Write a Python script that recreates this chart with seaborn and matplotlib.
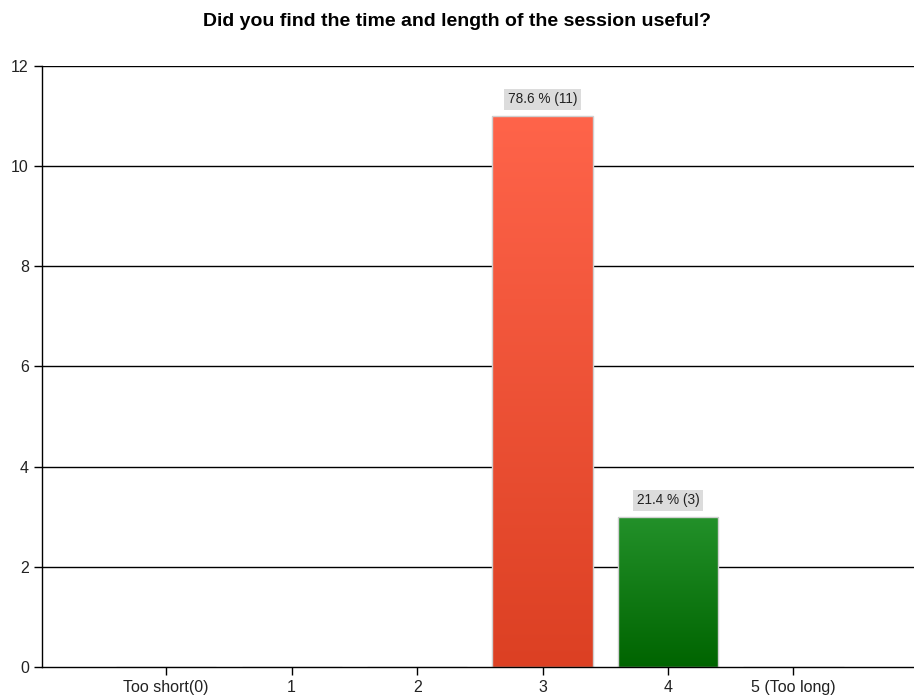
import numpy as np
import pandas as pd
import matplotlib
matplotlib.use("Agg")
import matplotlib.pyplot as plt
import seaborn as sns
from matplotlib.colors import LinearSegmentedColormap

categories = ["Too short(0)", "1", "2", "3", "4", "5 (Too long)"]
counts = [0, 0, 0, 11, 3, 0]
labels = ["", "", "", "78.6 % (11)", "21.4 % (3)", ""]
top_colors = ["#FF6347", "#FF6347", "#FF6347", "#FF644A", "#23912A", "#23912A"]
bottom_colors = ["#DC4023", "#DC4023", "#DC4023", "#DC4023", "#006400", "#006400"]
y_ticks = [0, 2, 4, 6, 8, 10, 12]

sns.set_theme(style="white")
plt.rcParams["font.family"] = ["Liberation Sans", "DejaVu Sans"]

df = pd.DataFrame({"category": categories, "count": counts})

fig = plt.figure(figsize=(9.14, 7.0), dpi=100)
ax = fig.add_axes([0.046, 0.047, 0.958, 0.859])

sns.barplot(data=df, x="category", y="count", order=categories, width=0.8,
            color="#cccccc", edgecolor="#d0d0d0", linewidth=1.0, ax=ax, zorder=3)

ax.set_xlim(-0.99, 5.99)
ax.set_ylim(0, 12)
ax.set_yticks(y_ticks)
ax.set_yticklabels([str(t) for t in y_ticks])

# vertical gradient fill clipped to each bar
grad = np.linspace(1, 0, 256).reshape(-1, 1)
for patch, c_top, c_bot, lab, val in zip(ax.patches, top_colors, bottom_colors, labels, counts):
    if val <= 0:
        continue
    x0, y0 = patch.get_x(), patch.get_y()
    w, h = patch.get_width(), patch.get_height()
    cmap = LinearSegmentedColormap.from_list("bar", [c_bot, c_top])
    im = ax.imshow(grad, cmap=cmap, aspect="auto", extent=[x0, x0 + w, y0, y0 + h],
                   origin="upper", zorder=3.5, interpolation="bicubic")
    im.set_clip_path(patch)
    patch.set_facecolor("none")
    patch.set_zorder(4)
    ax.annotate(lab, (x0 + w / 2, y0 + h), xytext=(0, 12), textcoords="offset points",
                ha="center", va="center", fontsize=9.8, color="#222222", zorder=5,
                bbox=dict(boxstyle="square,pad=0.25", fc="#DCDCDC", ec="none"))

ax.set_xlim(-0.99, 5.99)
ax.set_ylim(0, 12)

for y in y_ticks[1:]:
    ax.axhline(y, color="black", linewidth=1.0, zorder=2)

for side in ["top", "right"]:
    ax.spines[side].set_visible(False)
for side in ["left", "bottom"]:
    ax.spines[side].set_color("black")
    ax.spines[side].set_linewidth(1.0)
    ax.spines[side].set_zorder(6)

ax.tick_params(axis="both", which="major", direction="out", length=6, width=1,
               color="black", labelsize=11.5, labelcolor="#222222", bottom=True, left=True)
ax.set_xlabel("")
ax.set_ylabel("")
ax.grid(False)

fig.suptitle("Did you find the time and length of the session useful?",
             x=0.5, y=0.982, fontsize=14, fontweight="bold", color="black")

fig.savefig("out.png", dpi=100)
